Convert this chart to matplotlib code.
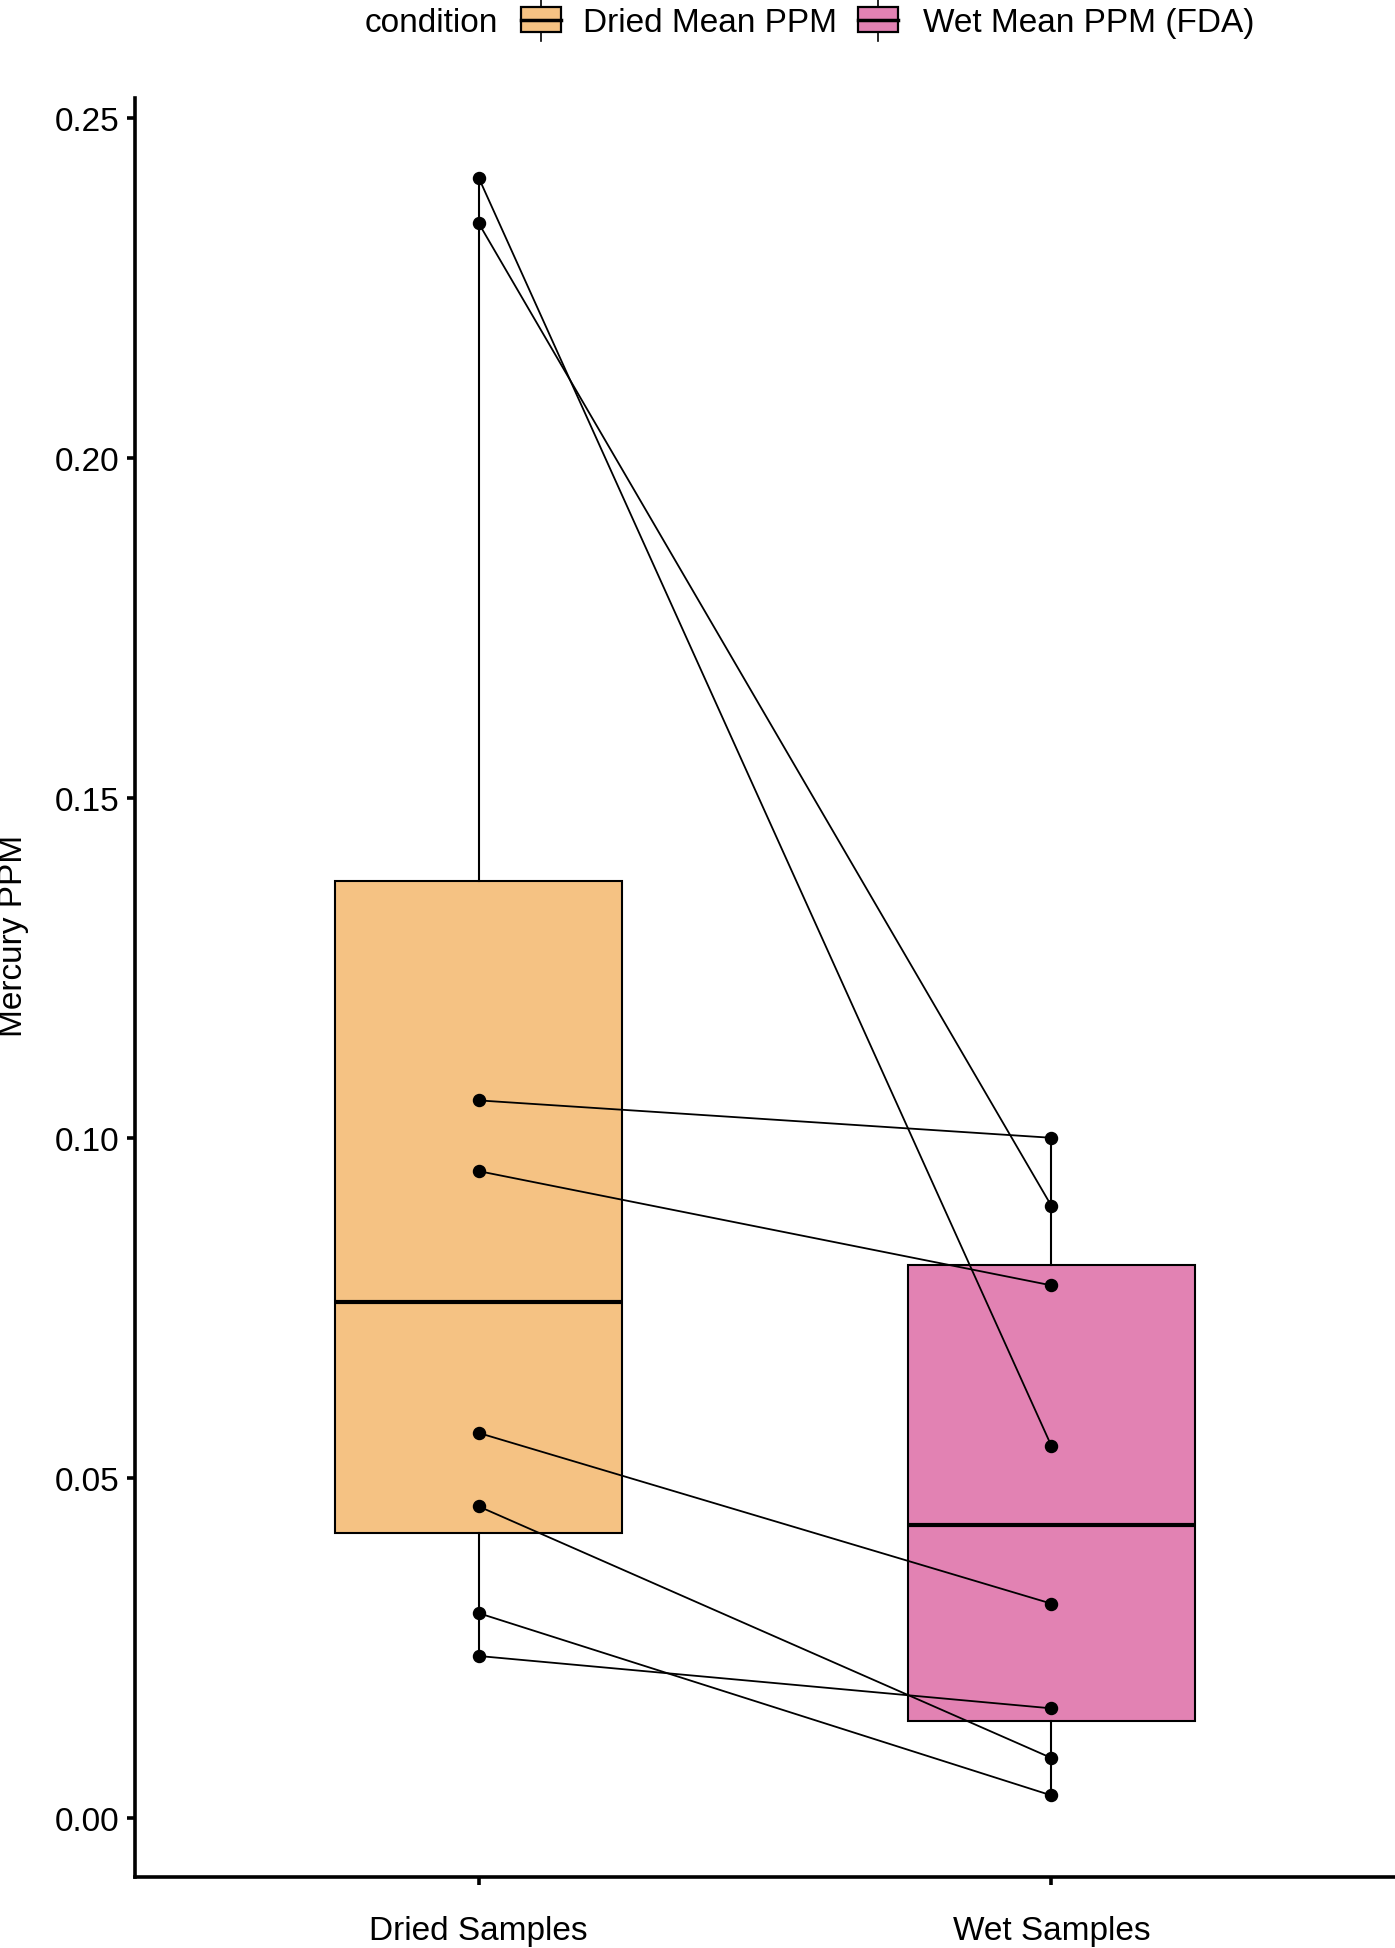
import matplotlib.pyplot as plt
from matplotlib.patches import Rectangle
from matplotlib.lines import Line2D

plt.rcParams['font.family'] = ['Liberation Sans', 'DejaVu Sans']

# data (paired samples, same order in both lists)
groups = ["Dried Samples", "Wet Samples"]
legend_labels = ["Dried Mean PPM", "Wet Mean PPM (FDA)"]
dried = [0.2412, 0.2345, 0.1055, 0.0951, 0.0566, 0.0458, 0.0301, 0.0238]
wet = [0.0547, 0.0900, 0.1000, 0.0783, 0.0315, 0.0088, 0.0033, 0.0161]
y_ticks = [0.00, 0.05, 0.10, 0.15, 0.20, 0.25]

colors = ["#F5C283", "#E282B3"]
W, H = 1395, 1949
FS = 24


def fx(px):
    return px / W


def fy(py):
    return 1 - py / H


fig = plt.figure(figsize=(W / 100, H / 100), dpi=100)
ax = fig.add_axes([fx(135), fy(1878), 1 - fx(135), (1878 - 99) / H])

bp = ax.boxplot([dried, wet], positions=[1, 2], widths=0.5, patch_artist=True,
                showfliers=False, showcaps=False, whis=1.5,
                boxprops=dict(linewidth=1.5, edgecolor="black"),
                whiskerprops=dict(linewidth=1.5, color="black"),
                medianprops=dict(linewidth=3, color="black"))
for patch, c in zip(bp["boxes"], colors):
    patch.set_facecolor(c)

# paired lines and points
for d, w in zip(dried, wet):
    ax.plot([1, 2], [d, w], color="black", lw=1.3, zorder=4)
ax.scatter([1] * len(dried), dried, s=75, color="black", zorder=5)
ax.scatter([2] * len(wet), wet, s=75, color="black", zorder=5)

ax.set_xlim(0.4, 2.6)
ax.set_ylim(-0.0087, 0.2529)
ax.set_xticks([1, 2])
ax.set_xticklabels(groups)
ax.set_yticks(y_ticks)
ax.set_yticklabels([f"{t:.2f}" for t in y_ticks])
ax.tick_params(axis="both", labelsize=FS, width=2.6, length=5.5, color="black")
ax.tick_params(axis="y", pad=6)
ax.tick_params(axis="x", pad=22)
for s in ["top", "right"]:
    ax.spines[s].set_visible(False)
for s in ["left", "bottom"]:
    ax.spines[s].set_linewidth(2.6)

fig.text(fx(14), fy(936), "Mercury PPM", rotation=90, ha="center", va="center", size=FS)

# legend drawn by hand to mimic ggplot's top legend
fig.text(fx(365), fy(32), "condition", ha="left", va="baseline", size=FS)
for x0, tx, c, lab in zip([521, 858], [583, 923], colors, legend_labels):
    fig.lines.append(Line2D([fx(x0 + 20)] * 2, [fy(0), fy(42)], color="black", lw=1.2,
                            transform=fig.transFigure, figure=fig, zorder=1))
    fig.patches.append(Rectangle((fx(x0), fy(33)), fx(40), 25 / H, facecolor=c,
                                 edgecolor="black", lw=1.6, transform=fig.transFigure,
                                 figure=fig, zorder=2))
    fig.lines.append(Line2D([fx(x0), fx(x0 + 40)], [fy(21)] * 2, color="black", lw=2.5,
                            transform=fig.transFigure, figure=fig, zorder=3))
    fig.text(fx(tx), fy(32), lab, ha="left", va="baseline", size=FS)

fig.savefig("out.png", dpi=100)
